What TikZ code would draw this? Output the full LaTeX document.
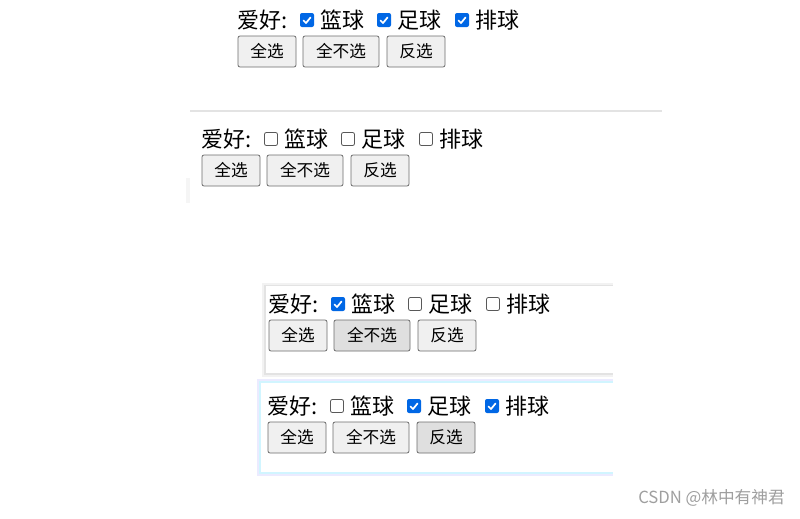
\documentclass[tikz,border=0pt]{standalone}
\usepackage{fontspec}
\setmainfont{Noto Sans CJK SC}
\newfontfamily\wm{Noto Sans CJK SC}
\begin{document}
\begin{tikzpicture}[x=0.75pt,y=-0.75pt,
  lbl/.style={font=\fontsize{16.5}{17}\selectfont,inner sep=0pt,anchor=west},
  btn/.style={draw=gray!85!black,fill=gray!12,rounded corners=1.5pt,line width=0.6pt,font=\fontsize{12.5}{13}\selectfont,inner sep=0pt,minimum height=23.25pt},
  cbon/.style={fill=blue!55!cyan!90!black,rounded corners=1.5pt,minimum size=10.5pt,inner sep=0pt},
  cboff/.style={draw=gray!70!black,fill=white,rounded corners=1.5pt,minimum size=9.8pt,inner sep=0pt,line width=0.6pt}]
\useasboundingbox (0,0) rectangle (800,518);
\fill[white] (0,0) rectangle (800,518);
\newcommand\cb[3]{% name, x, on
  \ifnum#3=1
    \node[cbon] (#1) at (#2,20) {};
    \draw[white,line width=1.3pt,line cap=round,line join=round] ([shift={(-3.5,0.5)}]#1.center) -- ([shift={(-1,3)}]#1.center) -- ([shift={(3.5,-2.5)}]#1.center);
  \else
    \node[cboff] (#1) at (#2,20) {};
  \fi}
\newcommand\fb[8]{% prefix,dx,dy,c1,c2,c3,press2,press3
\begin{scope}[shift={(#2,#3)}]
  \node[lbl] (#1l) at (237,20) {爱好:};
  \cb{#1a}{307}{#4}
  \node[lbl] (#1t1) at (320,20) {篮球};
  \cb{#1b}{384}{#5}
  \node[lbl] (#1t2) at (397,20) {足球};
  \cb{#1c}{462}{#6}
  \node[lbl] (#1t3) at (475,20) {排球};
  \node[btn,minimum width=43.5pt] (#1b1) at (267,51.5) {全选};
  \node[btn,minimum width=57pt,fill=gray!#7] (#1b2) at (341,51.5) {全不选};
  \node[btn,minimum width=43.5pt,fill=gray!#8] (#1b3) at (416,51.5) {反选};
\end{scope}}
% separator
\draw[gray!22,line width=0.8pt] (190,111) -- (662,111);
\fill[gray!8] (186,178) rectangle (190,203);
% frames
\fill[gray!10] (262,283) rectangle (613,377);
\fill[gray!22] (264,285) rectangle (613,375);
\fill[white] (266,286) rectangle (613,373);
\fill[blue!8] (257,379) rectangle (613,476);
\fill[blue!22!cyan!18] (259,381) rectangle (613,474);
\fill[white] (261,383) rectangle (613,472);
\fb{f1}{0}{0}{1}{1}{1}{12}{12}
\fb{f2}{-36}{119}{0}{0}{0}{12}{12}
\fb{f3}{31}{284}{1}{0}{0}{25}{12}
\fb{f4}{30}{386}{0}{1}{1}{12}{25}
\node[font=\wm\fontsize{12.5}{13}\selectfont,text=gray!75,anchor=east,inner sep=0pt] (wm) at (785,498) {CSDN @林中有神君};
\end{tikzpicture}
\end{document}
